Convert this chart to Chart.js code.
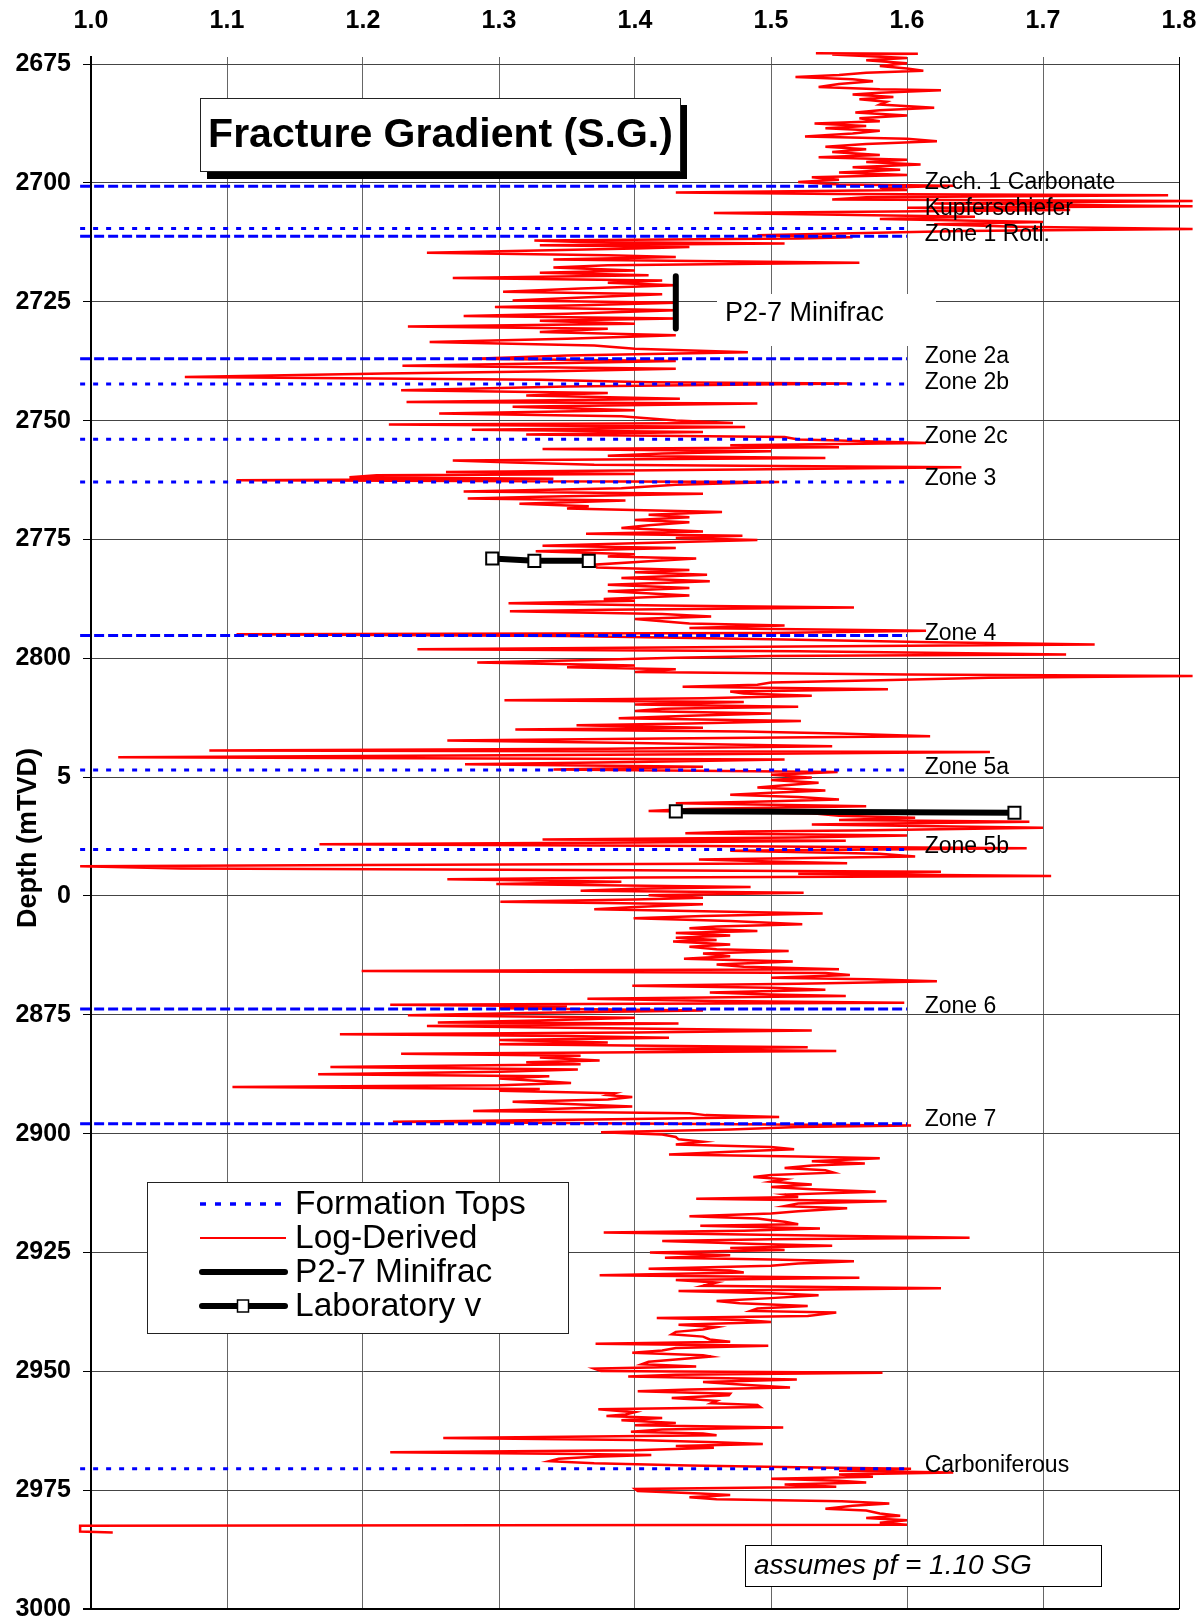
<!DOCTYPE html>
<html lang="en">

<head>
  <meta charset="UTF-8">
  <meta name="viewport" content="width=device-width, initial-scale=1.0">
  <title>Fracture Gradient (S.G.)</title>
  <style>
    html, body { margin: 0; padding: 0; background: #fff; }
    #migrafico { display: block; }
  </style>
</head>

<body>
  <canvas id="migrafico" width="1204" height="1621"></canvas>

  <!-- ChartJS -->
  <script src="https://cdn.jsdelivr.net/npm/chart.js"></script>

  <script>
    // Ejes
    const sgTicks = [1.0, 1.1, 1.2, 1.3, 1.4, 1.5, 1.6, 1.7, 1.8];
    const depthTicks = [2675, 2700, 2725, 2750, 2775, 2800, 2825, 2850, 2875, 2900, 2925, 2950, 2975, 3000];

    // Topes de formacion
    const topNames = ['Zech. 1 Carbonate', 'Kupferschiefer', 'Zone 1 Rotl.', 'Zone 2a', 'Zone 2b', 'Zone 2c',
      'Zone 3', 'Zone 4', 'Zone 5a', 'Zone 5b', 'Zone 6', 'Zone 7', 'Carboniferous'];
    const topDepths = [2700.7, 2709.6, 2711.2, 2737.0, 2742.3, 2753.9, 2762.9, 2795.2, 2823.5, 2840.2, 2873.8, 2897.9, 2970.5];
    const topDashed = [true, false, true, true, false, false, false, true, false, false, true, true, false];
    const topLabelDepths = [2700.0, 2705.5, 2710.9, 2736.6, 2742.0, 2753.3, 2762.3, 2794.9, 2823.0, 2839.7, 2873.2, 2897.1, 2969.8];
    const topSGRange = [0.992, 1.6];
    const topLabelSG = 1.613;

    // Log-Derived (profundidad / SG), por tramos
    const depthA = [2672.7, 2672.8, 2673.0, 2673.7, 2674.2, 2674.8, 2675.4, 2675.9, 2676.4, 2676.8,
      2677.3, 2677.7, 2678.2, 2678.6, 2679.2, 2679.8, 2680.3, 2680.5, 2681.0, 2681.4,
      2681.9, 2682.4, 2682.9, 2683.5, 2684.2, 2684.7, 2685.2, 2685.8, 2686.4, 2687.0,
      2687.5, 2688.0, 2688.5, 2689.0, 2689.6, 2690.2, 2690.7, 2691.2, 2691.8, 2692.4,
      2692.9, 2693.5, 2694.1, 2694.6, 2695.1, 2695.6, 2696.1, 2696.7, 2697.2, 2697.8,
      2698.3, 2698.8, 2699.3, 2699.8, 2700.3, 2700.6, 2701.0, 2701.5, 2702.0, 2702.3,
      2702.6, 2703.0, 2703.5, 2703.8, 2704.3, 2704.9, 2705.2, 2705.7, 2706.3, 2706.7,
      2707.1, 2707.6, 2708.2, 2708.7, 2709.2, 2709.7, 2710.1, 2710.6, 2711.0, 2711.4,
      2711.7, 2712.1];
    const sgA = [1.533, 1.608, 1.545, 1.600, 1.570, 1.600, 1.580, 1.600, 1.612, 1.570,
      1.550, 1.518, 1.560, 1.575, 1.550, 1.535, 1.580, 1.625, 1.580, 1.560,
      1.590, 1.565, 1.585, 1.580, 1.620, 1.580, 1.562, 1.600, 1.565, 1.580,
      1.532, 1.570, 1.540, 1.580, 1.560, 1.525, 1.600, 1.622, 1.570, 1.540,
      1.570, 1.545, 1.580, 1.535, 1.600, 1.570, 1.610, 1.560, 1.595, 1.550,
      1.600, 1.530, 1.550, 1.520, 1.550, 1.635, 1.580, 1.600, 1.430, 1.550,
      1.792, 1.570, 1.545, 1.810, 1.620, 1.810, 1.600, 1.720, 1.458, 1.550,
      1.650, 1.580, 1.700, 1.620, 1.680, 1.810, 1.640, 1.560, 1.490, 1.560,
      1.520, 1.326];

    const depthB = [2712.4, 2712.75, 2713.1, 2713.45, 2713.8, 2714.7, 2715.2, 2715.55, 2716.1, 2716.8,
      2717.3, 2717.8, 2718.4, 2718.9, 2719.4, 2720.0, 2720.5, 2721.0, 2721.5, 2722.2,
      2722.9, 2723.4, 2724.0, 2724.7, 2725.2, 2725.7, 2726.1, 2726.8, 2727.5, 2728.0,
      2728.5, 2729.0, 2729.6, 2730.2, 2730.65, 2731.35, 2732.05, 2732.75, 2733.45, 2734.2,
      2734.9, 2735.6, 2736.3, 2737.0, 2737.45, 2738.0, 2738.45, 2739.1, 2739.6, 2740.1,
      2740.8, 2741.4, 2741.9, 2742.2, 2742.8, 2743.6, 2744.2, 2744.7, 2745.4, 2746.1,
      2746.4, 2747.1, 2747.8, 2748.5, 2749.1, 2749.95, 2750.5, 2750.8, 2751.35, 2751.9,
      2752.4, 2752.9, 2753.45, 2753.95];
    const sgB = [1.360, 1.510, 1.330, 1.440, 1.400, 1.247, 1.380, 1.430, 1.340, 1.565,
      1.380, 1.340, 1.400, 1.330, 1.410, 1.266, 1.420, 1.380, 1.430, 1.360,
      1.303, 1.420, 1.370, 1.310, 1.430, 1.360, 1.297, 1.430, 1.350, 1.274,
      1.430, 1.330, 1.400, 1.233, 1.380, 1.330, 1.430, 1.350, 1.249, 1.370,
      1.400, 1.483, 1.350, 1.281, 1.430, 1.330, 1.229, 1.430, 1.340, 1.216,
      1.069, 1.330, 1.410, 1.559, 1.350, 1.228, 1.380, 1.320, 1.433, 1.232,
      1.490, 1.310, 1.400, 1.256, 1.390, 1.430, 1.472, 1.219, 1.481, 1.280,
      1.450, 1.320, 1.510, 1.520];

    const depthC = [2754.2, 2754.7, 2755.2, 2755.6, 2755.95, 2756.45, 2756.9, 2757.4, 2757.85, 2758.4,
      2758.8, 2759.3, 2759.8, 2760.3, 2760.8, 2761.2, 2761.5, 2761.9, 2762.2, 2762.55,
      2762.9, 2763.5, 2764.2, 2764.9, 2765.4, 2766.0, 2766.4, 2766.8, 2767.5, 2768.0,
      2768.5, 2769.2, 2769.8, 2770.3, 2770.9, 2771.4, 2772.0, 2772.6, 2773.3, 2773.8,
      2774.2, 2774.7, 2775.1, 2775.5, 2776.3, 2776.8, 2777.5, 2778.1, 2778.6, 2779.0,
      2779.6, 2780.3, 2780.9, 2781.4, 2781.9, 2782.4, 2783.1, 2783.8, 2784.5, 2785.2,
      2785.9, 2786.8, 2787.5, 2787.9, 2788.4, 2788.9, 2789.3, 2789.8, 2790.1, 2790.7,
      2791.2, 2791.75, 2792.2, 2792.7, 2793.1, 2793.6, 2794.2];
    const sgC = [1.550, 1.614, 1.470, 1.550, 1.332, 1.500, 1.420, 1.380, 1.540, 1.266,
      1.310, 1.370, 1.640, 1.480, 1.261, 1.400, 1.210, 1.190, 1.340, 1.107,
      1.506, 1.430, 1.390, 1.274, 1.450, 1.330, 1.277, 1.393, 1.315, 1.366,
      1.350, 1.464, 1.410, 1.440, 1.400, 1.440, 1.410, 1.390, 1.450, 1.364,
      1.479, 1.430, 1.490, 1.440, 1.332, 1.430, 1.327, 1.400, 1.380, 1.445,
      1.410, 1.370, 1.372, 1.440, 1.400, 1.453, 1.390, 1.455, 1.380, 1.440,
      1.380, 1.440, 1.377, 1.400, 1.307, 1.420, 1.561, 1.380, 1.308, 1.420,
      1.456, 1.400, 1.420, 1.440, 1.510, 1.440, 1.614];

    const depthD = [2794.7, 2794.95, 2795.3, 2796.0, 2796.6, 2797.1, 2797.5, 2798.1, 2798.5, 2798.8,
      2799.2, 2799.5, 2799.9, 2800.4, 2800.9, 2801.5, 2801.9, 2802.3, 2802.9, 2803.4,
      2803.7, 2804.1, 2804.6, 2805.1, 2805.55, 2806.0, 2806.5, 2807.0, 2807.4, 2807.9,
      2808.4, 2808.8, 2809.2, 2809.7, 2810.2, 2810.6, 2811.1, 2811.6, 2812.1, 2812.6,
      2813.2, 2813.7, 2814.1, 2814.6, 2815.0, 2815.4, 2815.8, 2816.4, 2816.85, 2817.3,
      2817.8, 2818.5, 2819.0, 2819.4, 2819.7, 2820.2, 2820.8, 2821.3, 2821.8, 2822.3,
      2822.8, 2823.4, 2823.9, 2824.5, 2825.1, 2825.6, 2826.2, 2826.7, 2827.2, 2827.8,
      2828.3, 2828.7, 2829.2, 2829.7, 2830.25, 2830.5, 2831.1, 2831.7, 2832.1, 2832.6,
      2833.1, 2833.55, 2834.0, 2834.4, 2834.95, 2835.65];
    const sgD = [1.500, 1.107, 1.350, 1.500, 1.620, 1.738, 1.520, 1.240, 1.520, 1.600,
      1.717, 1.500, 1.430, 1.360, 1.284, 1.400, 1.350, 1.430, 1.400, 1.600,
      1.810, 1.660, 1.580, 1.500, 1.490, 1.435, 1.586, 1.470, 1.480, 1.530,
      1.450, 1.304, 1.480, 1.400, 1.520, 1.420, 1.400, 1.500, 1.440, 1.388,
      1.522, 1.440, 1.357, 1.450, 1.312, 1.480, 1.550, 1.617, 1.420, 1.262,
      1.400, 1.545, 1.380, 1.087, 1.661, 1.450, 1.020, 1.510, 1.400, 1.275,
      1.450, 1.340, 1.549, 1.500, 1.530, 1.500, 1.535, 1.510, 1.490, 1.540,
      1.500, 1.470, 1.520, 1.550, 1.480, 1.430, 1.570, 1.440, 1.410, 1.530,
      1.550, 1.606, 1.550, 1.690, 1.530, 1.700];

    const depthE = [2836.2, 2836.45, 2836.8, 2837.3, 2837.7, 2838.1, 2838.4, 2838.75, 2839.1, 2839.5,
      2839.95, 2840.5, 2841.1, 2841.7, 2842.3, 2842.75, 2843.1, 2843.5, 2843.75, 2844.2,
      2844.6, 2844.9, 2845.3, 2845.8, 2846.1, 2846.5, 2847.0, 2847.5, 2848.1, 2848.5,
      2848.9, 2849.3, 2849.85, 2850.35, 2850.75, 2851.2, 2851.75, 2852.3, 2852.8, 2853.3,
      2853.7, 2854.2, 2854.7, 2855.25, 2855.95, 2856.4, 2856.8, 2857.35, 2857.8, 2858.3,
      2858.8, 2859.25, 2859.6, 2860.2, 2860.7, 2861.2, 2861.6, 2862.1, 2862.7, 2863.2,
      2863.8, 2864.4, 2864.9, 2865.4, 2865.8, 2866.2, 2866.6, 2867.2, 2867.5, 2867.95,
      2868.45, 2868.9, 2869.3, 2869.7, 2870.3, 2870.7, 2871.05, 2871.6, 2872.1, 2872.45,
      2872.9, 2873.2, 2873.6, 2874.1, 2874.55, 2875.1, 2875.6, 2876.2, 2876.6];
    const sgE = [1.560, 1.478, 1.437, 1.600, 1.520, 1.332, 1.555, 1.400, 1.168, 1.450,
      1.688, 1.470, 1.580, 1.606, 1.447, 1.500, 1.556, 1.200, 0.992, 1.066,
      1.400, 1.625, 1.520, 1.706, 1.400, 1.262, 1.390, 1.298, 1.485, 1.400,
      1.360, 1.524, 1.410, 1.450, 1.400, 1.301, 1.450, 1.400, 1.370, 1.470,
      1.538, 1.450, 1.399, 1.470, 1.523, 1.460, 1.440, 1.490, 1.430, 1.470,
      1.430, 1.460, 1.428, 1.470, 1.440, 1.460, 1.513, 1.450, 1.470, 1.436,
      1.516, 1.460, 1.480, 1.550, 1.199, 1.540, 1.558, 1.500, 1.571, 1.622,
      1.520, 1.398, 1.500, 1.540, 1.455, 1.500, 1.555, 1.365, 1.460, 1.598,
      1.220, 1.350, 1.300, 1.450, 1.330, 1.233, 1.400, 1.330, 1.255];

    const depthF = [2876.85, 2877.35, 2877.85, 2878.3, 2878.7, 2879.1, 2879.45, 2879.8, 2880.3, 2880.8,
      2881.2, 2881.8, 2882.2, 2882.6, 2883.2, 2883.6, 2884.0, 2884.6, 2885.0, 2885.4,
      2886.0, 2886.5, 2887.0, 2887.5, 2887.9, 2888.4, 2888.9, 2889.35, 2889.8, 2890.2,
      2890.6, 2891.0, 2891.5, 2891.9, 2892.3, 2892.8, 2893.3, 2893.85, 2894.3, 2894.7,
      2895.25, 2895.7, 2896.1, 2896.5, 2897.0, 2897.5, 2897.85, 2898.3, 2898.6, 2899.1,
      2899.7, 2900.2, 2900.7, 2901.2, 2901.7, 2902.3, 2902.8, 2903.3, 2903.8, 2904.4,
      2904.8, 2905.2, 2905.8, 2906.3, 2906.7, 2907.2, 2907.7, 2908.2, 2908.7, 2909.1,
      2909.6, 2910.1, 2910.7, 2911.2, 2911.7, 2912.2, 2912.8, 2913.3, 2913.7, 2914.2,
      2914.7, 2915.25, 2915.7, 2916.3, 2916.8, 2917.35, 2917.85];
    const sgF = [1.432, 1.247, 1.380, 1.530, 1.400, 1.183, 1.350, 1.425, 1.300, 1.380,
      1.300, 1.527, 1.400, 1.548, 1.228, 1.360, 1.330, 1.374, 1.320, 1.360,
      1.176, 1.358, 1.300, 1.167, 1.337, 1.300, 1.330, 1.353, 1.300, 1.104,
      1.330, 1.300, 1.385, 1.380, 1.398, 1.380, 1.310, 1.360, 1.398, 1.350,
      1.281, 1.440, 1.452, 1.506, 1.370, 1.222, 1.400, 1.603, 1.520, 1.470,
      1.375, 1.420, 1.430, 1.432, 1.450, 1.430, 1.500, 1.517, 1.470, 1.425,
      1.520, 1.580, 1.530, 1.569, 1.530, 1.510, 1.540, 1.546, 1.500, 1.487,
      1.510, 1.500, 1.530, 1.500, 1.530, 1.577, 1.510, 1.520, 1.445, 1.585,
      1.520, 1.510, 1.556, 1.520, 1.500, 1.440, 1.490];

    const depthG = [2918.2, 2918.55, 2919.05, 2919.4, 2919.95, 2920.4, 2920.8, 2921.2, 2921.9, 2922.2,
      2922.6, 2923.2, 2923.6, 2924.05, 2924.5, 2925.0, 2925.6, 2926.1, 2926.5, 2926.85,
      2927.3, 2927.8, 2928.4, 2928.8, 2929.2, 2929.8, 2930.3, 2930.8, 2931.3, 2932.0,
      2932.5, 2933.1, 2933.6, 2934.0, 2934.6, 2935.2, 2935.7, 2936.25, 2936.8, 2937.3,
      2937.65, 2938.35, 2938.8, 2939.2, 2939.6, 2940.2, 2940.7, 2941.2, 2941.7, 2942.2,
      2942.7, 2943.3, 2943.8, 2944.2, 2944.6, 2945.1, 2945.6, 2946.1, 2946.6, 2946.9,
      2947.5, 2948.0, 2948.5, 2949.0, 2949.45, 2949.95, 2950.3, 2950.7, 2951.1, 2951.7,
      2952.25, 2952.8, 2953.4, 2953.8, 2954.2, 2954.7, 2955.05, 2955.6, 2956.2, 2956.7,
      2957.1, 2957.5, 2958.0, 2958.6, 2959.1];
    const sgG = [1.500, 1.510, 1.520, 1.448, 1.536, 1.480, 1.377, 1.480, 1.646, 1.500,
      1.420, 1.490, 1.545, 1.470, 1.510, 1.411, 1.470, 1.422, 1.500, 1.561,
      1.520, 1.500, 1.410, 1.470, 1.480, 1.374, 1.565, 1.430, 1.460, 1.450,
      1.625, 1.432, 1.500, 1.535, 1.500, 1.460, 1.477, 1.527, 1.490, 1.485,
      1.548, 1.527, 1.416, 1.480, 1.500, 1.432, 1.460, 1.450, 1.430, 1.427,
      1.450, 1.455, 1.470, 1.371, 1.498, 1.430, 1.420, 1.398, 1.450, 1.456,
      1.430, 1.410, 1.405, 1.445, 1.370, 1.375, 1.582, 1.430, 1.395, 1.519,
      1.450, 1.480, 1.514, 1.440, 1.402, 1.470, 1.469, 1.427, 1.460, 1.456,
      1.490, 1.492, 1.373, 1.400, 1.393];

    const depthH = [2959.4, 2959.8, 2960.3, 2960.85, 2961.35, 2961.8, 2962.25, 2962.7, 2963.1, 2963.45,
      2964.0, 2964.45, 2964.9, 2965.3, 2965.7, 2966.1, 2966.6, 2967.0, 2967.4, 2967.6,
      2967.95, 2968.4, 2968.9, 2969.35, 2969.8, 2970.2, 2970.5, 2970.9, 2971.3, 2971.7,
      2972.2, 2972.6, 2973.0, 2973.4, 2973.8, 2974.3, 2974.75, 2975.2, 2975.7, 2976.0,
      2976.5, 2976.9, 2977.35, 2977.8, 2978.3, 2978.9, 2979.3, 2979.9, 2980.4, 2980.85,
      2981.35, 2981.85, 2982.3, 2982.5, 2983.7, 2983.9];
    const sgH = [1.379, 1.420, 1.390, 1.430, 1.400, 1.509, 1.420, 1.397, 1.450, 1.460,
      1.259, 1.400, 1.460, 1.494, 1.430, 1.458, 1.400, 1.220, 1.360, 1.412,
      1.370, 1.344, 1.337, 1.370, 1.440, 1.520, 1.603, 1.550, 1.634, 1.550,
      1.575, 1.500, 1.550, 1.570, 1.510, 1.548, 1.400, 1.402, 1.448, 1.470,
      1.440, 1.460, 1.552, 1.587, 1.560, 1.540, 1.570, 1.580, 1.595, 1.570,
      1.600, 1.580, 1.600, 0.992, 0.992, 1.016];

    // P2-7 Minifrac
    const minifracSG = [1.43, 1.43];
    const minifracDepth = [2719.6, 2730.6];

    // Laboratory v
    const lab1SG = [1.295, 1.326, 1.366];
    const lab1Depth = [2779.0, 2779.5, 2779.5];
    const lab2SG = [1.430, 1.679];
    const lab2Depth = [2832.2, 2832.5];

    const fuente = '"Liberation Sans", Arial, sans-serif';

    document.addEventListener("DOMContentLoaded", () => {
      const lienzo = document.getElementById("migrafico");

      const logDepth = [...depthA, ...depthB, ...depthC, ...depthD, ...depthE, ...depthF, ...depthG, ...depthH];
      const logSG = [...sgA, ...sgB, ...sgC, ...sgD, ...sgE, ...sgF, ...sgG, ...sgH];
      const puntos = (xs, ys) => xs.map((v, i) => ({ x: v, y: ys[i] }));

      const datasets = [];
      datasets.push({
        label: 'Log-Derived',
        data: puntos(logSG, logDepth),
        showLine: true,
        borderColor: '#ff0000',
        borderWidth: 2.5,
        pointRadius: 0,
        clip: false,
        order: 3
      });
      topNames.forEach((nombre, i) => {
        datasets.push({
          label: nombre,
          data: [{ x: topSGRange[0], y: topDepths[i] }, { x: topSGRange[1], y: topDepths[i] }],
          showLine: true,
          borderColor: '#0000ff',
          borderWidth: 3,
          borderDash: topDashed[i] ? [10, 4] : [5, 8],
          pointRadius: 0,
          clip: false,
          order: 2
        });
      });
      datasets.push({
        label: 'P2-7 Minifrac',
        data: puntos(minifracSG, minifracDepth),
        showLine: true,
        borderColor: '#000',
        borderWidth: 6,
        borderCapStyle: 'round',
        pointRadius: 0,
        order: 1
      });
      [[lab1SG, lab1Depth], [lab2SG, lab2Depth]].forEach(([xs, ys]) => {
        datasets.push({
          label: 'Laboratory v',
          data: puntos(xs, ys),
          showLine: true,
          borderColor: '#000',
          borderWidth: 6,
          pointStyle: 'rect',
          pointRadius: 8.5,
          pointBackgroundColor: '#fff',
          pointBorderColor: '#000',
          pointBorderWidth: 2,
          order: 0
        });
      });

      // Textos y cuadros sobre el grafico
      const adornos = {
        id: 'adornos',
        beforeDatasetsDraw(chart) {
          const ctx = chart.ctx;
          ctx.save();
          ctx.fillStyle = '#fff';
          ctx.fillRect(717, 294, 219, 52);
          ctx.restore();
        },
        afterDraw(chart) {
          const { ctx, scales: { x, y } } = chart;
          ctx.save();
          ctx.fillStyle = '#000';
          ctx.textBaseline = 'middle';
          ctx.textAlign = 'left';

          // etiquetas de topes
          ctx.font = '23px ' + fuente;
          topNames.forEach((nombre, i) => {
            ctx.fillText(nombre, x.getPixelForValue(topLabelSG), y.getPixelForValue(topLabelDepths[i]));
          });

          // etiqueta minifrac
          ctx.font = '27px ' + fuente;
          ctx.fillText('P2-7 Minifrac', 725, 314);

          // titulo con sombra
          ctx.fillStyle = '#000';
          ctx.fillRect(207, 105, 480, 74);
          ctx.fillStyle = '#fff';
          ctx.fillRect(200.5, 98.5, 480, 73);
          ctx.strokeStyle = '#222';
          ctx.lineWidth = 1;
          ctx.strokeRect(200.5, 98.5, 480, 73);
          ctx.fillStyle = '#000';
          ctx.font = 'bold 41px ' + fuente;
          ctx.textAlign = 'center';
          ctx.fillText('Fracture Gradient (S.G.)', 440.5, 136);

          // nota
          ctx.fillStyle = '#fff';
          ctx.fillRect(745.5, 1545.5, 356, 41);
          ctx.strokeStyle = '#000';
          ctx.strokeRect(745.5, 1545.5, 356, 41);
          ctx.fillStyle = '#000';
          ctx.textAlign = 'left';
          ctx.font = 'italic 28px ' + fuente;
          ctx.fillText('assumes pf = 1.10 SG', 754, 1566);

          // leyenda
          ctx.fillStyle = '#fff';
          ctx.fillRect(147.5, 1182.5, 421, 151);
          ctx.strokeStyle = '#222';
          ctx.lineWidth = 1;
          ctx.strokeRect(147.5, 1182.5, 421, 151);
          const filas = [1204, 1238, 1272, 1306];
          const etiquetas = ['Formation Tops', 'Log-Derived', 'P2-7 Minifrac', 'Laboratory v'];
          ctx.lineCap = 'butt';
          ctx.setLineDash([6, 9]);
          ctx.strokeStyle = '#0000ff';
          ctx.lineWidth = 3.5;
          ctx.beginPath(); ctx.moveTo(200, filas[0]); ctx.lineTo(286, filas[0]); ctx.stroke();
          ctx.setLineDash([]);
          ctx.strokeStyle = '#ff0000';
          ctx.lineWidth = 2;
          ctx.beginPath(); ctx.moveTo(200, filas[1]); ctx.lineTo(286, filas[1]); ctx.stroke();
          ctx.strokeStyle = '#000';
          ctx.lineWidth = 6;
          ctx.lineCap = 'round';
          ctx.beginPath(); ctx.moveTo(202, filas[2]); ctx.lineTo(285, filas[2]); ctx.stroke();
          ctx.beginPath(); ctx.moveTo(202, filas[3]); ctx.lineTo(285, filas[3]); ctx.stroke();
          ctx.fillStyle = '#fff';
          ctx.lineWidth = 1.5;
          ctx.fillRect(237.5, filas[3] - 6, 11, 12);
          ctx.strokeRect(237.5, filas[3] - 6, 11, 12);
          ctx.fillStyle = '#000';
          ctx.font = '33.5px ' + fuente;
          etiquetas.forEach((t, i) => ctx.fillText(t, 295, filas[i] + 1));

          // titulo del eje Y (tapa parte de las etiquetas)
          ctx.fillStyle = '#fff';
          ctx.fillRect(0, 740, 57.5, 196);
          ctx.translate(29, 838);
          ctx.rotate(-Math.PI / 2);
          ctx.fillStyle = '#000';
          ctx.textAlign = 'center';
          ctx.font = 'bold 27px ' + fuente;
          ctx.fillText('Depth (mTVD)', 0, 0);
          ctx.restore();
        }
      };

      const grafico = new Chart(lienzo, {
        type: 'scatter',
        data: { datasets },
        options: {
          responsive: false,
          animation: false,
          devicePixelRatio: 1,
          layout: { padding: { left: 0, top: 0, right: 25, bottom: 12 } },
          plugins: {
            legend: { display: false },
            tooltip: { enabled: false },
            title: { display: false }
          },
          scales: {
            x: {
              type: 'linear',
              position: 'top',
              min: 1.0,
              max: 1.8,
              afterBuildTicks: s => { s.ticks = sgTicks.map(v => ({ value: v })); },
              afterFit: s => { s.height = 57; s.paddingLeft = 0; s.paddingRight = 0; },
              ticks: {
                callback: v => Number(v).toFixed(1),
                color: '#000',
                font: { family: fuente, size: 25, weight: 'bold' },
                padding: 21,
                maxRotation: 0,
                autoSkip: false
              },
              grid: {
                drawTicks: false,
                color: c => (c.tick && c.tick.value === 1.8) ? '#000' : '#666',
                lineWidth: 1
              },
              border: { display: false }
            },
            y: {
              type: 'linear',
              reverse: true,
              min: 2673.5,
              max: 3000,
              afterBuildTicks: s => { s.ticks = depthTicks.map(v => ({ value: v })); },
              afterFit: s => { s.width = 91; s.paddingTop = 0; s.paddingBottom = 0; },
              ticks: {
                callback: v => String(v),
                color: '#000',
                font: { family: fuente, size: 25, weight: 'bold' },
                padding: 12,
                autoSkip: false
              },
              grid: {
                color: c => (c.tick && c.tick.value === 3000) ? '#000' : '#444',
                lineWidth: c => (c.tick && c.tick.value === 3000) ? 2 : 1,
                tickLength: 8,
                tickColor: '#000'
              },
              border: { color: '#000', width: 2 }
            }
          }
        },
        plugins: [adornos]
      });
    });
  </script>
</body>

</html>
